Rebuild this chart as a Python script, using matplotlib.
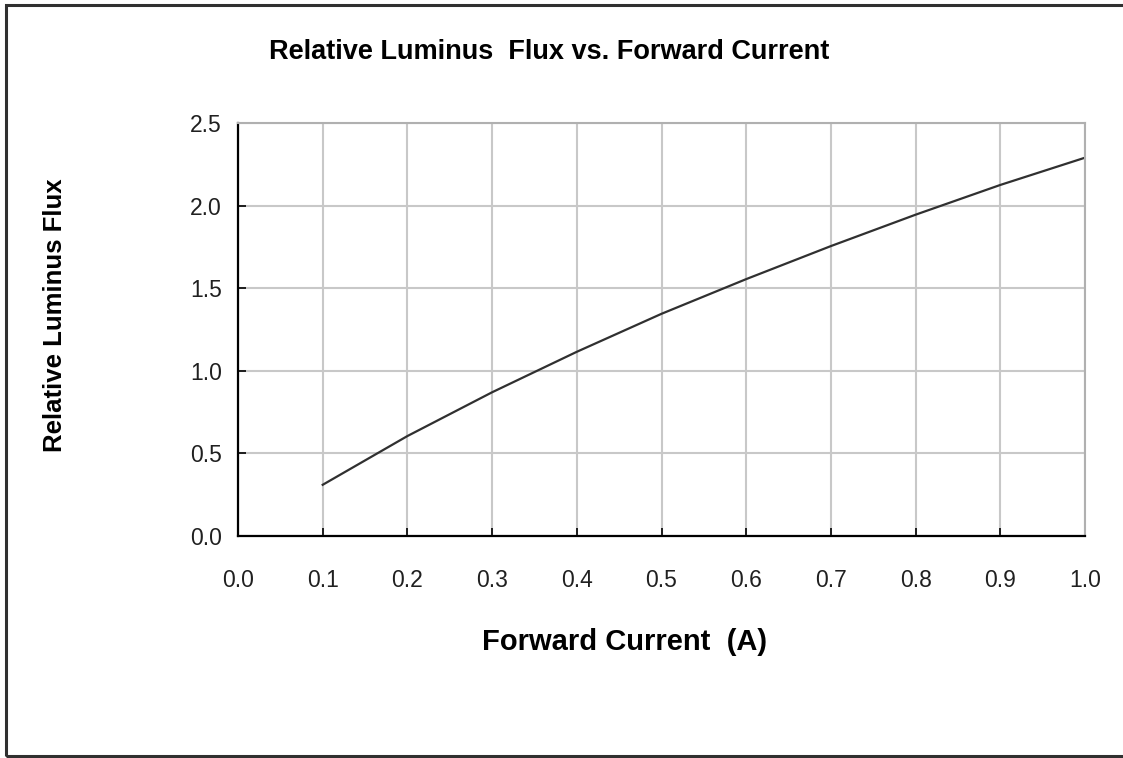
import matplotlib
matplotlib.use("Agg")
import matplotlib.pyplot as plt
from matplotlib.patches import Rectangle

current = [0.1, 0.2, 0.3, 0.4, 0.5, 0.6, 0.7, 0.8, 0.9, 1.0]
flux = [0.31, 0.605, 0.87, 1.115, 1.345, 1.555, 1.755, 1.945, 2.125, 2.29]
xticks = [0.0, 0.1, 0.2, 0.3, 0.4, 0.5, 0.6, 0.7, 0.8, 0.9, 1.0]
yticks = [0.0, 0.5, 1.0, 1.5, 2.0, 2.5]

title = "Relative Luminus  Flux vs. Forward Current"
xlabel = "Forward Current  (A)"
ylabel = "Relative Luminus Flux"

fig = plt.figure(figsize=(11.23, 7.58), dpi=100)
ax = fig.add_axes([238/1123, 1-536/758, (1085-238)/1123, (536-123)/758])

ax.plot(current, flux, color="#303030", lw=1.6)
ax.set_xlim(0, 1.0)
ax.set_ylim(0, 2.5)
ax.set_xticks(xticks)
ax.set_yticks(yticks)
ax.set_xticklabels([f"{v:.1f}" for v in xticks])
ax.set_yticklabels([f"{v:.1f}" for v in yticks])
ax.grid(True, color="#c8c8c8", lw=1.5)
ax.set_axisbelow(True)
for s in ["top", "right"]:
    ax.spines[s].set_color("#b0b0b0")
    ax.spines[s].set_linewidth(1.5)
for s in ["left", "bottom"]:
    ax.spines[s].set_color("black")
    ax.spines[s].set_linewidth(1.6)
ax.tick_params(direction="in", length=6, width=1.2, color="black",
               labelsize=16.5, labelcolor="#202020")
ax.tick_params(axis="y", pad=11.5)
ax.tick_params(axis="x", pad=24)
for lab in ax.get_xticklabels() + ax.get_yticklabels():
    lab.set_family(["Liberation Sans", "DejaVu Sans"])

fig.text(549/1123, 1-52/758, title, ha="center", va="center",
         fontsize=19.5, fontweight="bold",
         family=["Liberation Sans", "DejaVu Sans"])
fig.text(625/1123, 1-642/758, xlabel, ha="center", va="center",
         fontsize=21, fontweight="bold", family=["Liberation Sans", "DejaVu Sans"])
fig.text(55/1123, 1-315/758, ylabel, ha="center", va="center", rotation=90,
         fontsize=18.5, fontweight="bold",
         family=["Liberation Sans", "DejaVu Sans"])

fig.patches.append(Rectangle((6/1123, 1-756/758), 1.2, (756-5)/758,
                             transform=fig.transFigure, fill=False,
                             edgecolor="#303030", lw=2.2))

fig.savefig("out.png", dpi=100)
